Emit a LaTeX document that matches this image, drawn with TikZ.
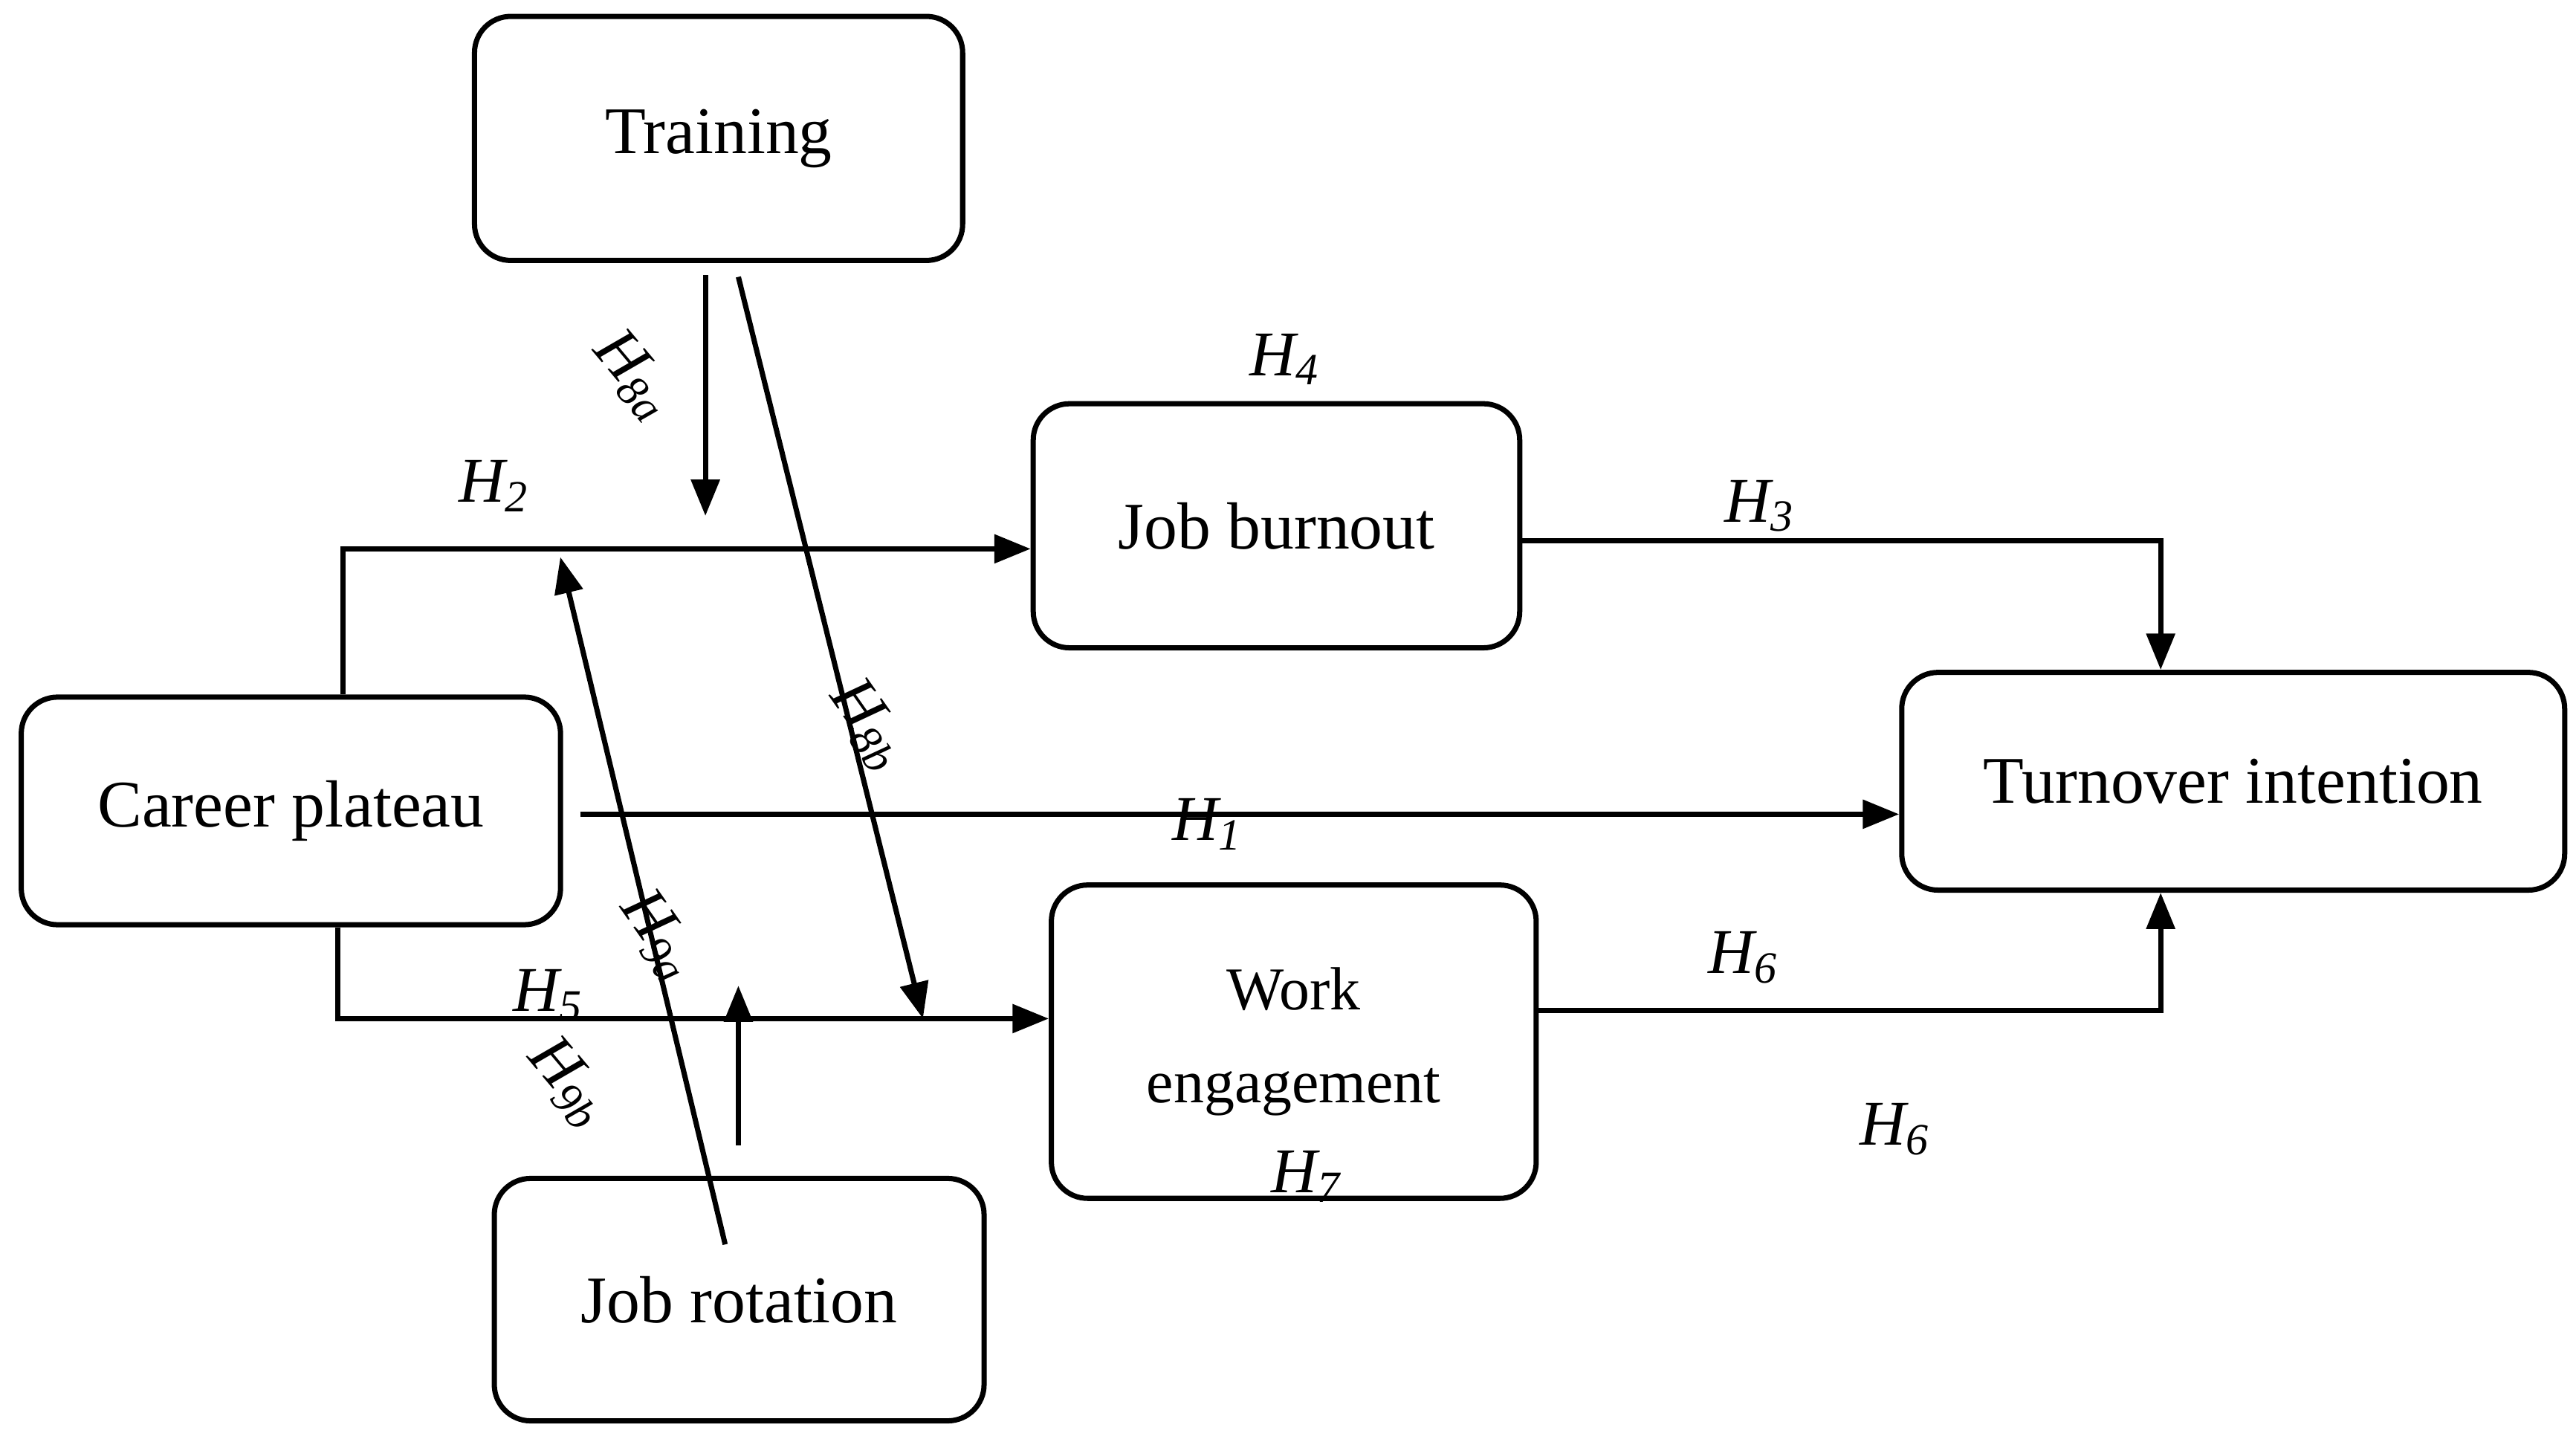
\documentclass[tikz,border=0pt]{standalone}
\usepackage{fontspec}
\setmainfont{Liberation Serif}
\usetikzlibrary{arrows.meta}
\begin{document}
\begin{tikzpicture}[x=0.01cm,y=0.01cm,
  box/.style={draw,line width=0.9pt,rounded corners=0.22cm,align=center,font=\fontsize{11.5}{13}\selectfont,inner sep=0pt},
  ar/.style={line width=0.9pt,-{Triangle[length=0.22cm,width=0.17cm]}},
  hl/.style={font=\itshape\fontsize{11}{13}\selectfont,inner sep=0pt}]
\useasboundingbox (0,0) rectangle (1563,873);
\node[box,minimum width=2.96cm,minimum height=1.48cm] (train) at (436,789) {Training};
\node[box,minimum width=2.95cm,minimum height=1.48cm] (burn) at (774.5,554) {Job burnout};
\node[box,minimum width=3.27cm,minimum height=1.38cm] (career) at (176.5,381) {Career plateau};
\node[box,minimum width=4.02cm,minimum height=1.32cm] (turn) at (1355,399) {Turnover intention};
\node[box,minimum width=2.94cm,minimum height=1.90cm,font=\fontsize{10.5}{12}\selectfont] (work) at (785,241) {Work\\[4pt]engagement};
\node[box,minimum width=2.97cm,minimum height=1.47cm] (rot) at (448.5,84.5) {Job rotation};
\coordinate (c1) at (208,540);
\coordinate (c2) at (205,255);
\coordinate (c3) at (1311,545);
\coordinate (c4) at (1311,260);
\coordinate (h1s) at (352,379);
\draw[ar] (career.north -| c1) -- (c1) -- (burn.west |- c1);
\draw[ar] (h1s) -- (turn.west |- h1s);
\draw[ar] (career.south -| c2) -- (c2) -- (work.west |- c2);
\draw[ar] (burn.east |- c3) -- (c3) -- (turn.north -| c3);
\draw[ar] (work.east |- c4) -- (c4) -- (turn.south -| c4);
\coordinate (t1) at (428,706);
\coordinate (t1e) at (428,560);
\draw[ar] (t1) -- (t1e);
\coordinate (t2) at (448,705);
\coordinate (t2e) at (560,255);
\draw[ar] (t2) -- (t2e);
\coordinate (r1) at (440,118);
\coordinate (r1e) at (340,535);
\draw[ar] (r1) -- (r1e);
\coordinate (r2) at (448,178);
\coordinate (r2e) at (448,275);
\draw[ar] (r2) -- (r2e);
\node[hl] at (780,655) {H\textsubscript{4}};
\node[hl] at (300,578) {H\textsubscript{2}};
\node[hl] at (1068,566) {H\textsubscript{3}};
\node[hl] at (733,373) {H\textsubscript{1}};
\node[hl,rotate=-50] at (385,645) {H\textsubscript{8a}};
\node[hl,rotate=-55] at (527,433) {H\textsubscript{8b}};
\node[hl,rotate=-55] at (400,305) {H\textsubscript{9a}};
\node[hl] at (333,269) {H\textsubscript{5}};
\node[hl,rotate=-50] at (345,216) {H\textsubscript{9b}};
\node[hl] at (1058,292) {H\textsubscript{6}};
\node[hl] at (1150,188) {H\textsubscript{6}};
\node[hl] at (793,159) {H\textsubscript{7}};
\end{tikzpicture}
\end{document}
